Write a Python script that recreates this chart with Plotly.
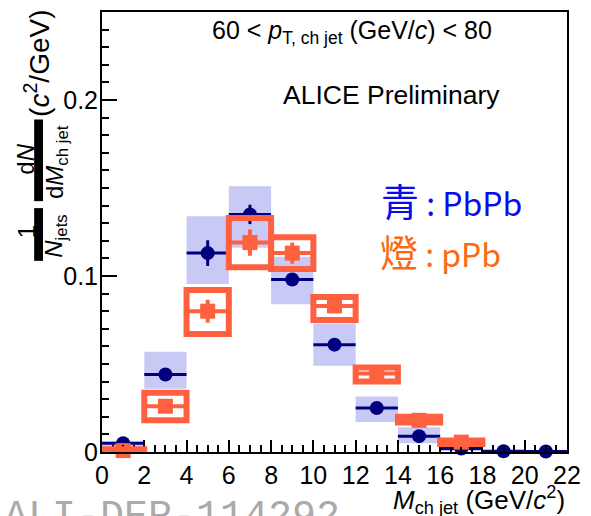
import plotly.graph_objects as go

# Jet-mass bins (GeV/c^2): centres and half widths
mass_bins = [1, 3, 5, 7, 9, 11, 13, 15, 17, 19, 21]
bin_half = [1, 1, 1, 1, 1, 1, 1, 1, 1, 1, 1]

# Pb-Pb: yield, statistical error, systematic band (low / high edge)
pbpb_y = [0.005, 0.044, 0.113, 0.135, 0.098, 0.061, 0.025, 0.009, 0.002, 0.0004, 0.0003]
pbpb_stat = [0.0005, 0.0015, 0.0073, 0.0055, 0.003, 0.002, 0.001, 0.0008, 0.0005, 0.0002, 0.0002]
pbpb_sys_lo = [0.001, 0.036, 0.0955, 0.116, 0.084, 0.049, 0.017, 0.005, 0.0005, 0.0, 0.0]
pbpb_sys_hi = [0.006, 0.057, 0.134, 0.151, 0.111, 0.073, 0.0316, 0.014, 0.004, 0.0008, 0.0006]

# p-Pb: yield, statistical error, systematic box (low / high edge)
ppb_bins = [1, 3, 5, 7, 9, 11, 13, 15, 17]
ppb_half = [1, 1, 1, 1, 1, 1, 1, 1, 1]
ppb_y = [0.0008, 0.026, 0.080, 0.119, 0.113, 0.083, 0.0446, 0.018, 0.0056]
ppb_stat = [0.0005, 0.002, 0.0065, 0.0075, 0.006, 0.004, 0.002, 0.001, 0.0008]
ppb_sys_lo = [0.0, 0.018, 0.067, 0.105, 0.104, 0.075, 0.040, 0.0167, 0.0045]
ppb_sys_hi = [0.0015, 0.0336, 0.092, 0.133, 0.122, 0.088, 0.048, 0.020, 0.0065]

NAVY = "#00007f"
BAND = "#c9c9f6"
ORANGE = "#fe6040"
FONT = "Liberation Sans, Arial, Helvetica, sans-serif"

W, H = 591, 516
ML, MR, MT, MB = 102, 16, 10, 64
PW, PH = W - ML - MR, H - MT - MB


def px(x):
    return (x - ML) / PW


def py(y):
    return (H - MB - y) / PH


fig = go.Figure()

# Pb-Pb systematic bands
fig.add_trace(go.Bar(
    x=mass_bins,
    y=[h - l for h, l in zip(pbpb_sys_hi, pbpb_sys_lo)],
    base=pbpb_sys_lo,
    width=[2 * w for w in bin_half],
    marker=dict(color=BAND, line=dict(width=0)),
    hoverinfo="skip",
))

# Pb-Pb points
fig.add_trace(go.Scatter(
    x=mass_bins, y=pbpb_y, mode="markers",
    marker=dict(symbol="circle", size=14, color=NAVY),
    error_x=dict(type="data", array=bin_half, thickness=3, width=0, color=NAVY),
    error_y=dict(type="data", array=pbpb_stat, thickness=3, width=0, color=NAVY),
    cliponaxis=False,
))

# p-Pb points
fig.add_trace(go.Scatter(
    x=ppb_bins, y=ppb_y, mode="markers",
    marker=dict(symbol="square", size=15, color=ORANGE),
    error_x=dict(type="data", array=ppb_half, thickness=4, width=0, color=ORANGE),
    error_y=dict(type="data", array=ppb_stat, thickness=4, width=0, color=ORANGE),
    cliponaxis=False,
))

# p-Pb systematic boxes (open, thick outline)
for c, hw, lo, hi in zip(ppb_bins, ppb_half, ppb_sys_lo, ppb_sys_hi):
    fig.add_shape(type="rect", xref="x", yref="y",
                  x0=c - hw, x1=c + hw, y0=lo, y1=hi,
                  line=dict(color=ORANGE, width=6),
                  fillcolor="rgba(0,0,0,0)", layer="above")

axis_common = dict(
    showline=True, linecolor="black", linewidth=2, mirror=True,
    ticks="inside", tickcolor="black", tickwidth=2,
    showgrid=False, zeroline=False,
    tickfont=dict(family=FONT, size=25, color="black"),
)

fig.update_xaxes(range=[0, 22], tick0=0, dtick=2, ticklen=12,
                 minor=dict(dtick=0.5, ticks="inside", ticklen=7,
                            tickwidth=2, tickcolor="black", showgrid=False),
                 **axis_common)
fig.update_yaxes(range=[0, 0.25], tick0=0, dtick=0.1, ticklen=15,
                 ticklabelstandoff=-3,
                 minor=dict(dtick=0.01, ticks="inside", ticklen=7,
                            tickwidth=2, tickcolor="black", showgrid=False),
                 **axis_common)

ann = []
# header texts
ann.append(dict(text="60 &lt; <i>p</i><sub>T, ch jet</sub> (GeV/<i>c</i>) &lt; 80",
                x=px(356), y=py(30), font=dict(family=FONT, size=25, color="black")))
ann.append(dict(text="ALICE Preliminary", x=px(396), y=py(93),
                font=dict(family=FONT, size=26.5, color="black")))

# coloured labels
CJK = "Noto Sans CJK TC"
ann.append(dict(text='<span style="font-size:38px">青</span> : PbPb',
                x=px(384), y=py(198), xanchor="left",
                font=dict(family=CJK, size=32, color="#0a0af2")))
ann.append(dict(text='<span style="font-size:38px">燈</span> : pPb',
                x=px(383), y=py(250), xanchor="left",
                font=dict(family=CJK, size=32, color="#fb6a12")))

# x-axis title
ann.append(dict(text="<i>M</i><sub>ch jet</sub> (GeV/<i>c</i><sup>2</sup>)",
                x=1.0, xanchor="right", y=py(500),
                font=dict(family=FONT, size=26, color="black")))

# y-axis title built from rotated pieces
yt = dict(family=FONT, size=24, color="black")
ann.append(dict(text="1", x=px(25), y=py(231), textangle=-90, font=yt))
ann.append(dict(text="<i>N</i><sub>jets</sub>", x=px(55), y=py(235), textangle=-90, font=yt))
ann.append(dict(text="d<i>N</i>", x=px(24), y=py(158), textangle=-90, font=yt))
ann.append(dict(text="d<i>M</i><sub>ch jet</sub>", x=px(56), y=py(161), textangle=-90, font=yt))
ann.append(dict(text="(<i>c</i><sup>2</sup>/GeV)", x=px(36), y=py(62), textangle=-90,
                font=dict(family=FONT, size=28, color="black")))

# figure label
ann.append(dict(text="ALI-DER-114292", x=px(0), xanchor="left", y=py(518),
                font=dict(family="Liberation Mono, Courier New, monospace", size=40, color="#aaaaaa")))

for a in ann:
    a.setdefault("xref", "paper")
    a.setdefault("yref", "paper")
    a.setdefault("xanchor", "center")
    a.setdefault("yanchor", "middle")
    a["showarrow"] = False
    fig.add_annotation(**a)

# fraction bars of the y-axis title
for y0, y1 in [(207, 260), (118, 200)]:
    fig.add_shape(type="rect", xref="paper", yref="paper",
                  x0=px(33), x1=px(42), y0=py(y1), y1=py(y0),
                  fillcolor="black", line=dict(width=0), layer="above")

fig.update_layout(
    width=W, height=H,
    margin=dict(l=ML, r=MR, t=MT, b=MB),
    paper_bgcolor="white", plot_bgcolor="white",
    barmode="overlay", showlegend=False,
    font=dict(family=FONT),
)

fig.write_html("out.html")
